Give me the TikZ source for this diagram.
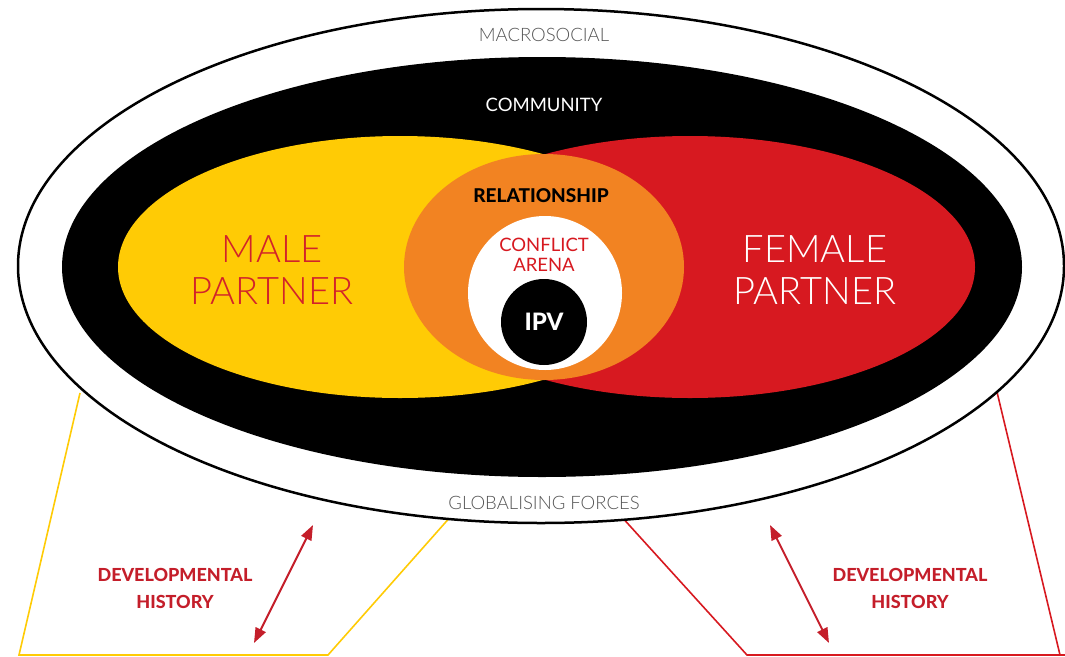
\documentclass[tikz,border=0pt]{standalone}
\usepackage{fontspec}
\setmainfont{Lato}
\newfontfamily\lightfont{Lato Light}
\newfontfamily\heavyfont{Lato Heavy}
\usetikzlibrary{arrows.meta,shapes.geometric}
\definecolor{cyel}{HTML}{FFCB05}
\definecolor{cred}{HTML}{D71920}
\definecolor{corg}{HTML}{F28322}
\definecolor{ctxt}{HTML}{C41E2A}
\definecolor{cgray}{HTML}{555555}
\definecolor{cmale}{HTML}{D2232A}
\begin{document}
\begin{tikzpicture}[x=1pt,y=-1pt,
  lbl/.style={inner sep=0pt,align=center},
  devlbl/.style={lbl,text=ctxt,font=\heavyfont\fontsize{18}{27}\selectfont},
  partner/.style={lbl,font=\lightfont\fontsize{38}{42}\selectfont},
  devarrow/.style={ctxt,line width=2pt,{Triangle[length=15pt,width=11pt]}-{Triangle[length=15pt,width=11pt]}},
  side/.style={line width=1.6pt},
  ell/.style={shape=ellipse,inner sep=0pt,draw=none},
  circ/.style={shape=circle,inner sep=0pt,draw=none}]
\useasboundingbox (0,0) rectangle (1065,656);
% side frames
\coordinate (yl1) at (80,393);
\coordinate (yl2) at (19,655);
\coordinate (yl3) at (328,655);
\coordinate (yl4) at (452,515);
\coordinate (rl1) at (620,515);
\coordinate (rl2) at (747,655);
\coordinate (rl3) at (1065,655);
\coordinate (rl4) at (1060,655);
\coordinate (rl5) at (997,392);
\draw[side,cyel] (yl1) -- (yl2) -- (yl3) -- (yl4);
\draw[side,cred] (rl1) -- (rl2) -- (rl3);
\draw[side,cred] (rl5) -- (rl4);
% ellipses
\node[ell,draw=black,line width=2.5pt,fill=white,minimum width=1046pt,minimum height=514pt] (macro) at (541,266) {};
\node[ell,fill=black,minimum width=960pt,minimum height=420pt] (comm) at (542,267) {};
\node[ell,fill=cyel,minimum width=564pt,minimum height=262pt] (male) at (400,267) {};
\node[ell,fill=cred,minimum width=570pt,minimum height=262pt] (female) at (690,267) {};
\node[ell,fill=corg,minimum width=280pt,minimum height=226pt] (rel) at (544,267) {};
\node[circ,fill=white,minimum size=154pt] (arena) at (545,293) {};
\node[circ,fill=black,minimum size=86pt] (ipv) at (544,322) {};
% texts
\node[lbl,text=cgray,font=\lightfont\fontsize{18.5}{20}\selectfont] (tmacro) at (544,35) {MACROSOCIAL};
\node[lbl,text=white,font=\fontsize{18.5}{20}\selectfont] (tcomm) at (544,105) {COMMUNITY};
\node[lbl,text=cgray,font=\lightfont\fontsize{18.5}{20}\selectfont] (tglob) at (544,503) {GLOBALISING FORCES};
\node[partner,text=cmale] (tmale) at (272,270) {MALE\\PARTNER};
\node[partner,text=white] (tfemale) at (815,270) {FEMALE\\PARTNER};
\node[lbl,text=black,font=\heavyfont\fontsize{19}{20}\selectfont] (trel) at (541,196) {RELATIONSHIP};
\node[lbl,text=cred,font=\fontsize{18.5}{20}\selectfont] (tarena) at (544,255) {CONFLICT\\ARENA};
\node[lbl,text=white,font=\heavyfont\fontsize{24}{26}\selectfont] (tipv) at (544,322) {IPV};
\node[devlbl] (tdev1) at (175,588) {DEVELOPMENTAL\\HISTORY};
\node[devlbl] (tdev2) at (910,588) {DEVELOPMENTAL\\HISTORY};
% arrows
\coordinate (a1s) at (313,525);
\coordinate (a1e) at (254,643);
\coordinate (a2s) at (770,525);
\coordinate (a2e) at (829,643);
\draw[devarrow] (a1s) -- (a1e);
\draw[devarrow] (a2s) -- (a2e);
\end{tikzpicture}
\end{document}
